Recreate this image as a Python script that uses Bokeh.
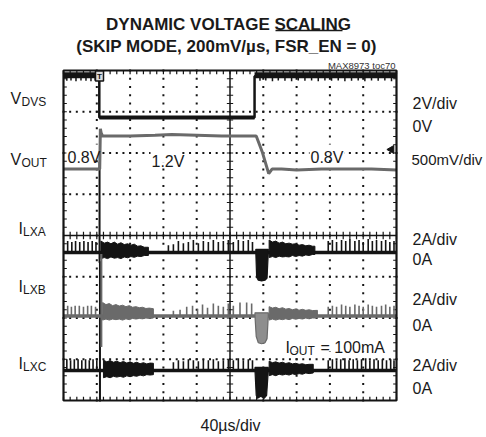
import math
from bokeh.plotting import figure
from bokeh.models import Range1d
from bokeh.core.properties import value
from bokeh.embed import file_html
from bokeh.resources import INLINE

FONT = "Liberation Sans"

# ---------------- data (time in µs, 40 µs/div) ----------------
# V_DVS (V), 2 V/div
dvs_t = [0, 43, 43, 229.5, 229.5, 400]
dvs_v = [2.0, 2.0, 0.0, 0.0, 2.0, 2.0]
dvs_band_t0 = [0, 229.5]
dvs_band_t1 = [43, 400]
dvs_band_lo = [1.9, 1.9]
dvs_band_hi = [2.2, 2.2]
dvs_notch_t = [4, 9, 15, 21, 27, 33, 38, 236, 243, 251, 258, 266, 274, 282, 290,
               298, 306, 314, 322, 330, 338, 346, 354, 362, 370, 378, 386, 394]
dvs_notch_v = [1.78, 1.8, 1.76, 1.8, 1.78, 1.76, 1.8, 1.78, 1.8, 1.76, 1.8, 1.78, 1.76, 1.8,
               1.78, 1.8, 1.76, 1.8, 1.78, 1.8, 1.76, 1.78, 1.8, 1.76, 1.8, 1.78, 1.8, 1.76]

# V_OUT (V), 500 mV/div
vout_t = [0, 43.5, 44.3, 45.2, 47, 55, 80, 110, 130, 160, 190, 215, 231.5, 239, 246.5,
          250.5, 262, 280, 310, 340, 370, 400]
vout_v = [0.80, 0.80, 1.29, 1.24, 1.20, 1.20, 1.20, 1.21, 1.22, 1.21, 1.20, 1.20, 1.20,
          1.00, 0.745, 0.80, 0.80, 0.79, 0.80, 0.80, 0.80, 0.79]

# I_LXA (A), 2 A/div
ilxa_pulse_t = [5, 10, 14.5, 19.5, 24.5, 29.5, 34.5, 39,
                126, 132, 138, 144, 150, 156, 162, 168, 174, 180, 186, 192, 198, 204, 210,
                216, 222, 227,
                318, 323, 328, 334, 339, 344, 350, 355, 360, 366, 371, 376, 382, 387, 392, 397]
ilxa_pulse_a = [0.55, 0.5, 0.55, 0.5, 0.55, 0.5, 0.55, 0.5,
                0.35, 0.4, 0.55, 0.45, 0.5, 0.6, 0.45, 0.55, 0.5, 0.6, 0.5, 0.55, 0.6, 0.5,
                0.6, 0.55, 0.6, 0.5,
                0.55, 0.6, 0.5, 0.6, 0.55, 0.65, 0.55, 0.6, 0.5, 0.65, 0.55, 0.6, 0.55, 0.6,
                0.5, 0.55]
# noisy burst bands: time, upper edge, lower edge
ilxa_band1_t = [45, 49, 53, 57, 61, 65, 69, 73, 77, 81, 85, 89, 93, 97, 102]
ilxa_band1_hi = [0.55, 0.45, 0.5, 0.42, 0.5, 0.4, 0.47, 0.38, 0.42, 0.35, 0.4, 0.3, 0.32, 0.25, 0.25]
ilxa_band1_lo = [-0.3, -0.25, -0.3, -0.22, -0.28, -0.25, -0.3, -0.22, -0.26, -0.2, -0.24, -0.18, -0.2, -0.15, -0.15]
ilxa_band2_t = [247, 251, 255, 259, 263, 267, 271, 275, 279, 283, 287, 291, 295, 299, 302]
ilxa_band2_hi = [0.6, 0.5, 0.55, 0.45, 0.5, 0.42, 0.45, 0.4, 0.42, 0.35, 0.38, 0.32, 0.35, 0.3, 0.3]
ilxa_band2_lo = [-0.25, -0.2, -0.25, -0.18, -0.22, -0.2, -0.22, -0.15, -0.2, -0.15, -0.18, -0.12, -0.15, -0.1, -0.1]
ilxa_dip_t = [231, 232, 234, 238, 242, 244.5, 246]
ilxa_dip_a = [0.0, -1.2, -1.35, -1.38, -1.35, -1.25, 0.0]
ilxa_spike = (43.3, -0.5, 4.4)

# I_LXB (A), 2 A/div
ilxb_pulse_t = [5, 9.5, 14, 19, 24, 29, 33.5, 38.5,
                132, 140, 148, 155, 161, 167, 173, 180, 186, 192, 198, 204, 212, 220, 226,
                318, 323, 328, 334, 339, 344, 350, 355, 360, 366, 371, 376, 382, 387, 392, 397]
ilxb_pulse_a = [0.5, 0.45, 0.5, 0.5, 0.45, 0.5, 0.5, 0.45,
                0.25, 0.3, 0.45, 0.5, 0.35, 0.55, 0.4, 0.6, 0.5, 0.45, 0.6, 0.5, 0.65, 0.65, 0.6,
                0.45, 0.5, 0.45, 0.55, 0.5, 0.45, 0.55, 0.5, 0.45, 0.55, 0.5, 0.45, 0.5, 0.55,
                0.45, 0.5]
ilxb_band1_t = [47, 51, 55, 59, 63, 67, 71, 75, 79, 83, 87, 91, 95, 99, 103, 108]
ilxb_band1_hi = [0.65, 0.55, 0.6, 0.5, 0.55, 0.48, 0.52, 0.45, 0.5, 0.42, 0.45, 0.4, 0.42, 0.36, 0.38, 0.35]
ilxb_band1_lo = [-0.2, -0.15, -0.2, -0.15, -0.18, -0.15, -0.2, -0.14, -0.18, -0.12, -0.15, -0.12, -0.14, -0.1, -0.12, -0.1]
ilxb_band2_t = [247, 251, 255, 259, 263, 267, 271, 275, 279, 283, 287, 291, 295, 299, 305]
ilxb_band2_hi = [0.45, 0.38, 0.42, 0.35, 0.4, 0.33, 0.36, 0.3, 0.34, 0.28, 0.32, 0.27, 0.3, 0.26, 0.27]
ilxb_band2_lo = [-0.2, -0.15, -0.2, -0.15, -0.18, -0.14, -0.18, -0.12, -0.16, -0.12, -0.15, -0.1, -0.14, -0.1, -0.1]
ilxb_dip_t = [230, 231.5, 234, 238, 242, 244.5, 246]
ilxb_dip_a = [0.0, -1.0, -1.3, -1.35, -1.3, -1.1, 0.0]
ilxb_spike = (45.5, -1.5, 3.0)

# I_LXC (A), 2 A/div
ilxc_pulse_t = [4, 8.5, 13, 17.5, 22, 26.5, 31, 35.5, 40,
                132, 138, 144, 150, 156, 162, 168, 174, 180, 186, 192, 198, 204, 210, 216,
                222, 227,
                318, 323, 328, 333, 338, 343, 348, 353, 358, 363, 368, 373, 378, 383, 388, 393, 397]
ilxc_pulse_a = [0.55, 0.5, 0.55, 0.55, 0.5, 0.55, 0.5, 0.55, 0.5,
                0.4, 0.5, 0.45, 0.55, 0.5, 0.45, 0.55, 0.5, 0.55, 0.45, 0.5, 0.55, 0.5, 0.6,
                0.5, 0.55, 0.5,
                0.5, 0.55, 0.5, 0.55, 0.6, 0.5, 0.55, 0.5, 0.55, 0.6, 0.5, 0.55, 0.5, 0.55,
                0.5, 0.55, 0.5]
ilxc_band1_t = [48, 52, 56, 60, 64, 68, 72, 76, 80, 84, 88, 92, 96, 100, 104, 108]
ilxc_band1_hi = [0.5, 0.42, 0.48, 0.4, 0.45, 0.38, 0.44, 0.36, 0.42, 0.35, 0.4, 0.33, 0.38, 0.32, 0.36, 0.35]
ilxc_band1_lo = [-0.35, -0.3, -0.35, -0.28, -0.32, -0.28, -0.33, -0.26, -0.3, -0.25, -0.28, -0.22, -0.26, -0.2, -0.22, -0.2]
ilxc_band2_t = [247, 251, 255, 259, 263, 267, 271, 275, 279, 283, 287, 291, 295, 300]
ilxc_band2_hi = [0.45, 0.38, 0.42, 0.36, 0.4, 0.34, 0.38, 0.32, 0.35, 0.3, 0.33, 0.28, 0.3, 0.3]
ilxc_band2_lo = [-0.25, -0.2, -0.25, -0.18, -0.22, -0.18, -0.22, -0.16, -0.2, -0.15, -0.18, -0.12, -0.15, -0.12]
ilxc_dip_t = [230, 231.5, 233, 237, 241, 244, 246]
ilxc_dip_a = [0.0, -1.2, -1.35, -1.25, -1.35, -1.2, 0.0]
ilxc_spike = (43.8, -1.5, 5.3)

# channel placement on the 8-division screen (division of each channel's zero)
DVS_ZERO, DVS_SCALE = 6.86, 2.0
VOUT_ZERO, VOUT_SCALE = 4.01, 0.5
ILXA_ZERO, ILXB_ZERO, ILXC_ZERO, I_SCALE = 3.59, 2.05, 0.727, 2.0

BLACK = "#141414"
GREY = "#6a6a6a"
LGREY = "#8e8e8e"


# page pixel -> data helpers (for text placement only)
def X(px):
    return (px - 63) * 40 / 33.3


def Y(py):
    return (400 - py) / 41.25


p = figure(width=486, height=437, x_range=Range1d(X(0), X(486)), y_range=Range1d(Y(437), Y(0)),
           output_backend="svg", toolbar_location=None, x_axis_type=None, y_axis_type=None,
           min_border=0, min_border_left=0, min_border_right=0, min_border_top=0,
           min_border_bottom=0)
p.outline_line_color = None
p.background_fill_color = "white"
p.border_fill_color = "white"

# ---------------- graticule ----------------
minor_t = [i * 8 for i in range(51)]
minor_y = [j * 0.2 for j in range(41)]
dx, dy = [], []
for yy in [1, 2, 3, 5, 6, 7]:
    for tt in minor_t:
        dx.append(tt); dy.append(yy)
for tt in [40, 80, 120, 160, 240, 280, 320, 360]:
    for yy in minor_y:
        dx.append(tt); dy.append(yy)
p.rect(dx, dy, width=2, height=2, width_units="screen", height_units="screen",
       fill_color=BLACK, line_color=None)

# center lines + ticks
p.segment([200, 0], [0, 4], [200, 400], [8, 4], line_color=BLACK, line_width=1.5)
p.segment([200 - 3.8] * len(minor_y), minor_y, [200 + 3.8] * len(minor_y), minor_y,
          line_color=BLACK, line_width=1.2)
p.segment(minor_t, [4 - 0.09] * len(minor_t), minor_t, [4 + 0.09] * len(minor_t),
          line_color=BLACK, line_width=1.2)
# border ticks
p.segment(minor_t, [0] * len(minor_t), minor_t, [0.09] * len(minor_t), line_color=BLACK, line_width=1.2)
p.segment(minor_t, [8] * len(minor_t), minor_t, [7.91] * len(minor_t), line_color=BLACK, line_width=1.2)
p.segment([0] * len(minor_y), minor_y, [4] * len(minor_y), minor_y, line_color=BLACK, line_width=1.2)
p.segment([400] * len(minor_y), minor_y, [396] * len(minor_y), minor_y, line_color=BLACK, line_width=1.2)

# white backgrounds behind in-screen labels
p.quad(left=[X(66), X(150), X(309), X(282)], right=[X(100), X(181), X(344), X(383)],
       bottom=[Y(158), Y(162), Y(158), Y(351)], top=[Y(144), Y(147), Y(144), Y(332)],
       fill_color="white", line_color=None)

# ---------------- traces ----------------
def cy(zero, scale, vals):
    return [zero + v / scale for v in vals]


def draw_current(zero, col, pt, pa, bands, dt, da, spike, dipcol):
    p.line([0, 400], [zero, zero], line_color=col, line_width=3.5)
    xs, ys = [], []
    for bt, bh, bl in bands:
        xs.append(bt + bt[::-1])
        ys.append(cy(zero, I_SCALE, bh + bl[::-1]))
    p.patches(xs, ys, fill_color=col, line_color=col, line_width=1)
    p.segment(pt, [zero] * len(pt), pt, cy(zero, I_SCALE, pa), line_color=col, line_width=1.6)
    p.patch(dt + [dt[-1], dt[0]], cy(zero, I_SCALE, da + [0.15, 0.15]),
            fill_color=dipcol, line_color=col, line_width=1.2)
    ts, lo, hi = spike
    p.segment([ts], cy(zero, I_SCALE, [lo]), [ts], cy(zero, I_SCALE, [hi]),
              line_color=col, line_width=2)


draw_current(ILXA_ZERO, BLACK, ilxa_pulse_t, ilxa_pulse_a,
             [(ilxa_band1_t, ilxa_band1_hi, ilxa_band1_lo), (ilxa_band2_t, ilxa_band2_hi, ilxa_band2_lo)],
             ilxa_dip_t, ilxa_dip_a, ilxa_spike, BLACK)
draw_current(ILXC_ZERO, BLACK, ilxc_pulse_t, ilxc_pulse_a,
             [(ilxc_band1_t, ilxc_band1_hi, ilxc_band1_lo), (ilxc_band2_t, ilxc_band2_hi, ilxc_band2_lo)],
             ilxc_dip_t, ilxc_dip_a, ilxc_spike, BLACK)
draw_current(ILXB_ZERO, GREY, ilxb_pulse_t, ilxb_pulse_a,
             [(ilxb_band1_t, ilxb_band1_hi, ilxb_band1_lo), (ilxb_band2_t, ilxb_band2_hi, ilxb_band2_lo)],
             ilxb_dip_t, ilxb_dip_a, ilxb_spike, LGREY)

# V_DVS
p.quad(left=dvs_band_t0, right=dvs_band_t1, bottom=cy(DVS_ZERO, DVS_SCALE, dvs_band_lo),
       top=cy(DVS_ZERO, DVS_SCALE, dvs_band_hi), fill_color=BLACK, line_color=None)
p.segment(dvs_notch_t, cy(DVS_ZERO, DVS_SCALE, [2.0] * len(dvs_notch_t)), dvs_notch_t,
          cy(DVS_ZERO, DVS_SCALE, dvs_notch_v), line_color=BLACK, line_width=1.5)
p.line(dvs_t, cy(DVS_ZERO, DVS_SCALE, dvs_v), line_color=BLACK, line_width=2.5)
p.line([43, 229.5], cy(DVS_ZERO, DVS_SCALE, [0.0, 0.0]), line_color=BLACK, line_width=4)

# V_OUT
p.line(vout_t, cy(VOUT_ZERO, VOUT_SCALE, vout_v), line_color=GREY, line_width=3)

# border
p.quad(left=[0], right=[400], bottom=[0], top=[8], fill_color=None, line_color=BLACK, line_width=2.2)

# trigger marker and VOUT level marker
p.rect([X(99)], [Y(75.5)], width=8, height=10, width_units="screen", height_units="screen",
       fill_color="#dddddd", line_color=BLACK, line_width=1.5)
p.text([X(99)], [Y(75.5)], text=["T"], text_font=value(FONT), text_font_size="8px",
       text_font_style="bold", text_align="center", text_baseline="middle", text_color=BLACK)
p.scatter([X(391)], [Y(149)], marker="triangle", size=8, angle=math.pi / 2,
          fill_color=BLACK, line_color=BLACK)

# ---------------- texts ----------------
def txt(px, py, s, size, align="left", bold=False, color="#1a1a1a", font=FONT):
    p.text([X(px)], [Y(py)], text=[s], text_font=value(font), text_font_size=size,
           text_font_style="bold" if bold else "normal", text_align=align,
           text_baseline="alphabetic", text_color=color)


txt(228, 24, "DYNAMIC VOLTAGE SCALING", "17px", "center", True)
txt(226, 46, "(SKIP MODE, 200mV/µs, FSR_EN = 0)", "17px", "center", True)
p.segment([X(275)], [Y(30)], [X(342)], [Y(30)], line_color="#1a1a1a", line_width=1.3)
txt(395, 65, "MAX8973 toc70", "9.5px", "right", color="#333333")

# left channel names with subscripts
for px, py, main, sub in [(10, 98, "V", "DVS"), (10, 159, "V", "OUT"), (18, 228, "I", "LXA"),
                          (18, 286, "I", "LXB"), (18, 363, "I", "LXC")]:
    txt(px, py, main, "16px")
    txt(px + (11 if main == "V" else 4.5), py + 3, sub, "12px")

# right scale labels
for py, s in [(103, "2V/div"), (126, "0V"), (239, "2A/div"), (259, "0A"), (299, "2A/div"),
              (325, "0A"), (365, "2A/div"), (388, "0A")]:
    txt(412, py, s, "16px")
txt(411, 159, "500mV/div", "15px")

# in-screen labels
txt(67, 157, "0.8V", "16px")
txt(151, 161, "1.2V", "16px")
txt(310, 157, "0.8V", "16px")
txt(285, 347, "I", "16px")
txt(289, 350, "OUT", "12px")
txt(320, 347, "= 100mA", "16px")

txt(230, 425, "40µs/div", "16px", "center")

open("out.html", "w").write(file_html(p, INLINE))
